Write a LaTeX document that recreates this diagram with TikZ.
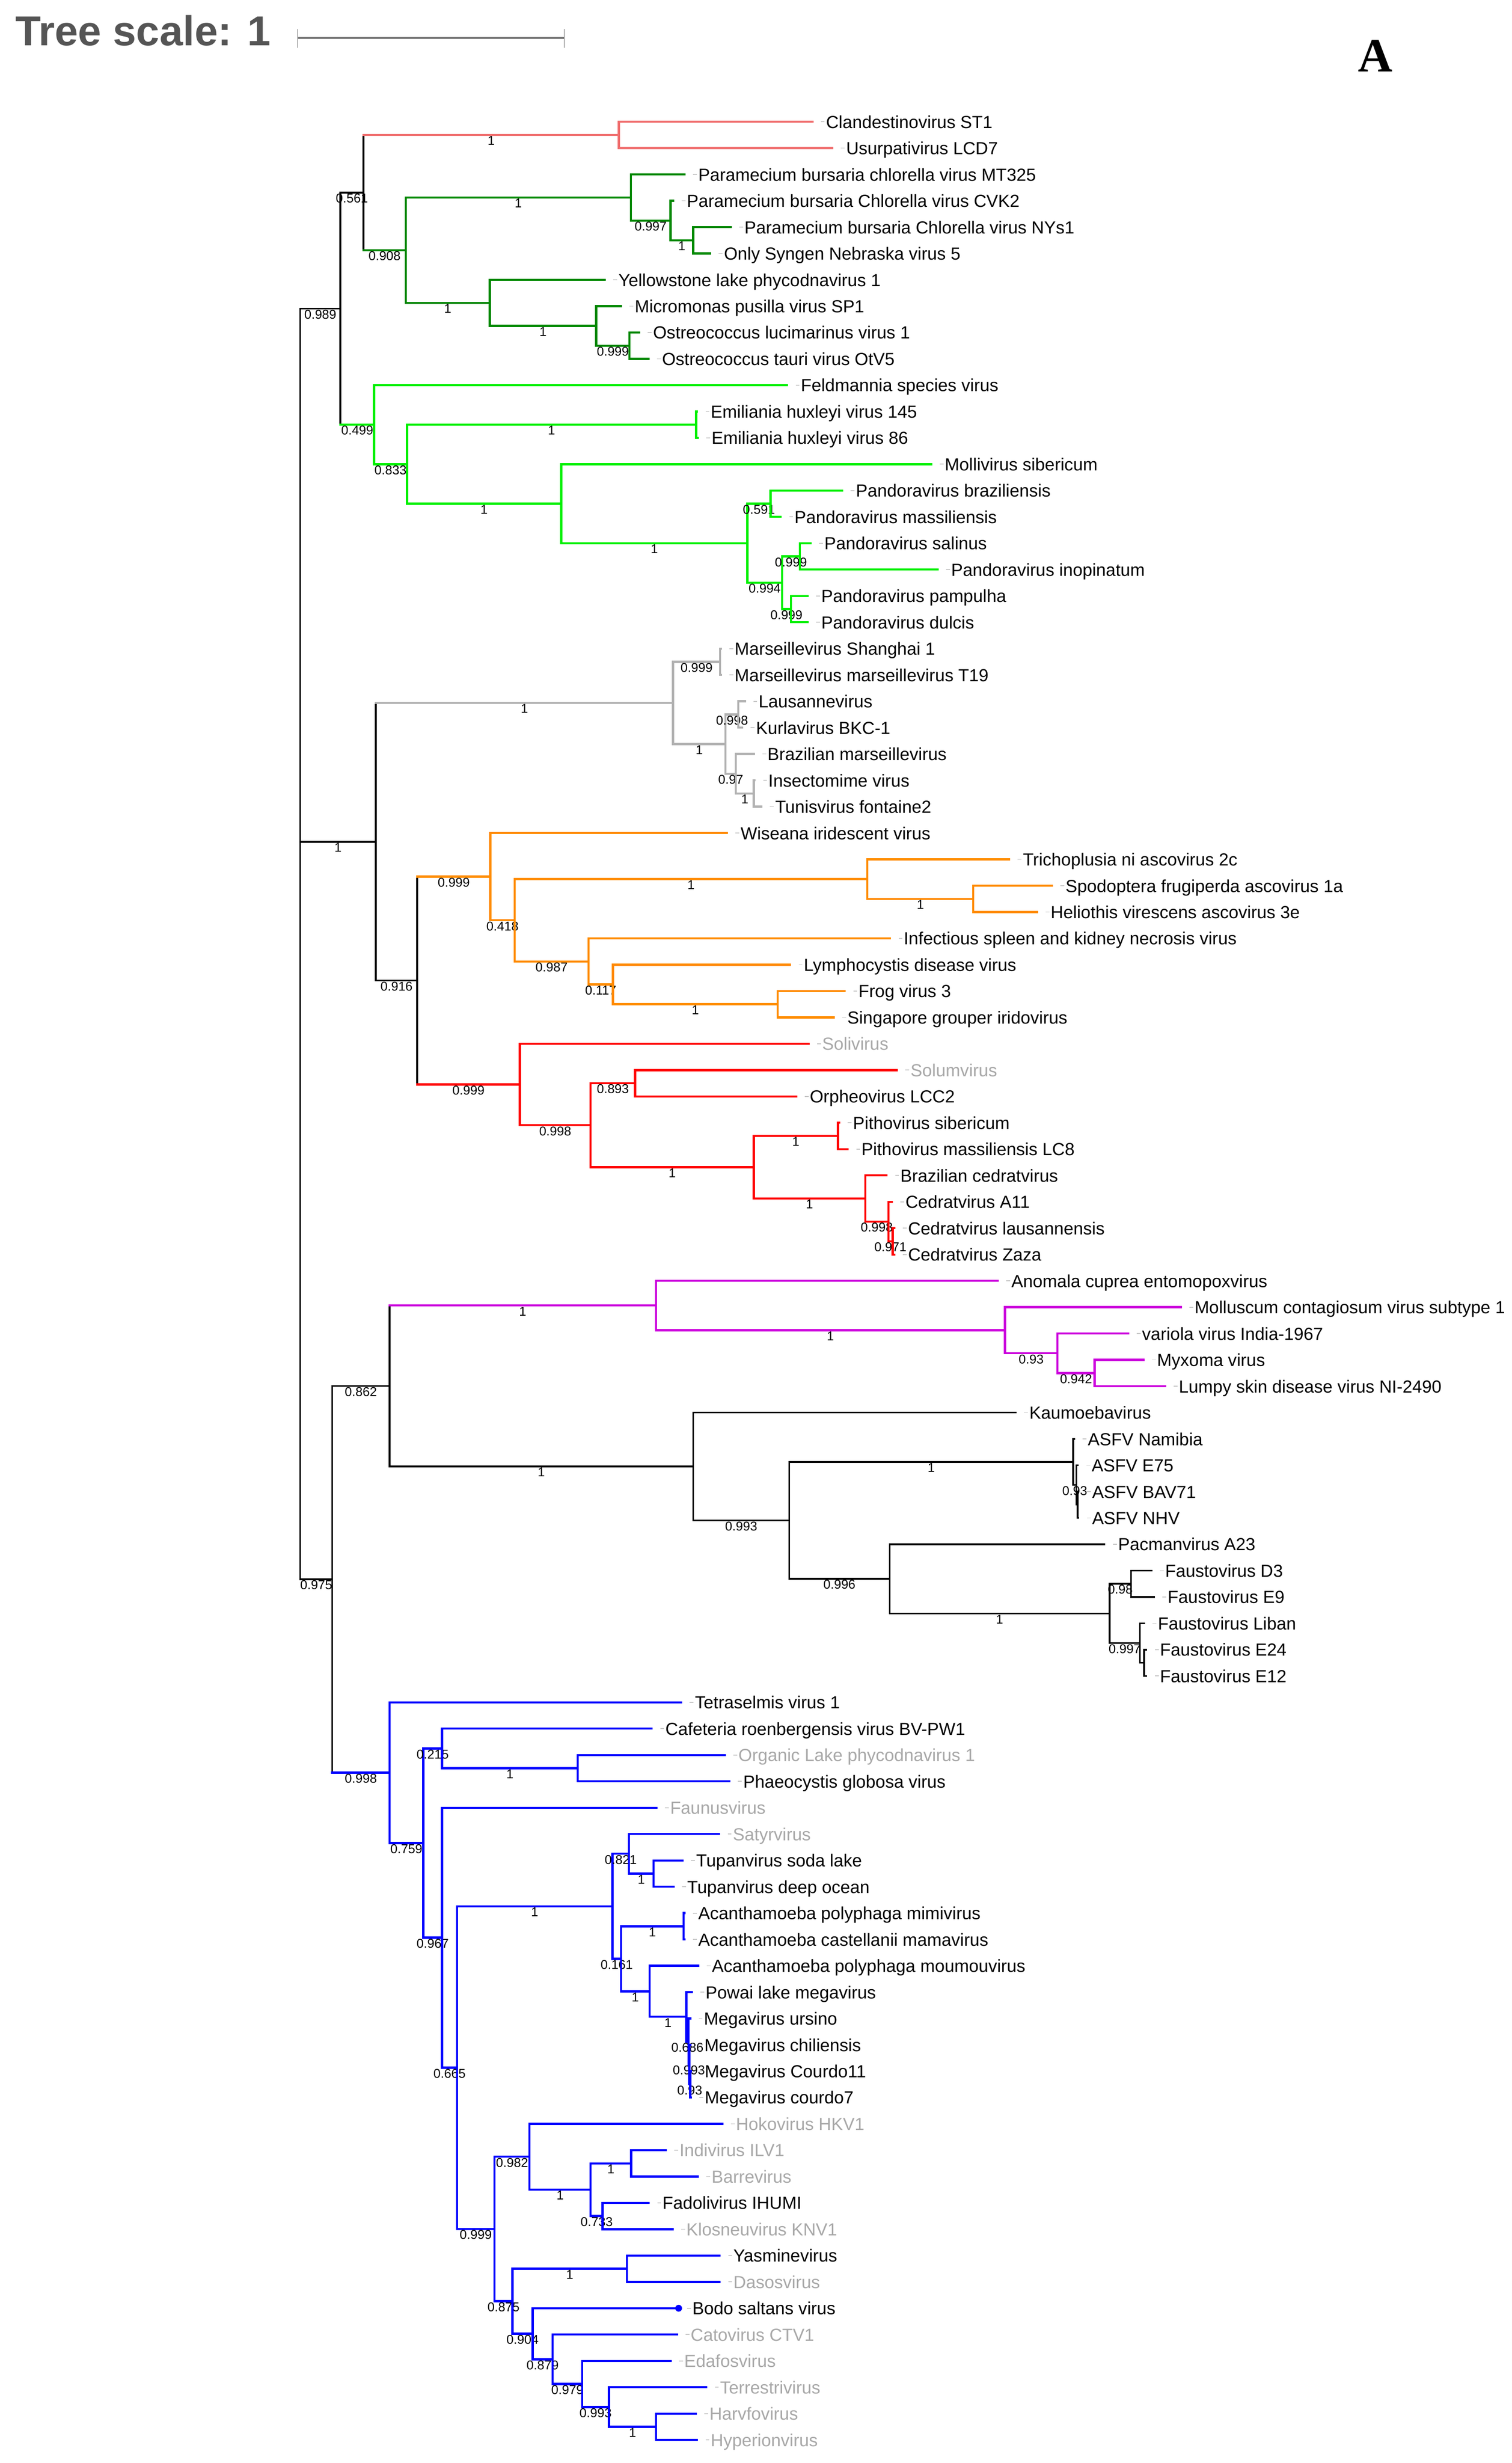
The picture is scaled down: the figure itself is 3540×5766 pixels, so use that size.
\documentclass[tikz,border=0pt]{standalone}
\usepackage{fontspec}
\setmainfont{Liberation Sans}
\newfontfamily\serifA{Liberation Serif}
\usetikzlibrary{calc}
\definecolor{cSal}{RGB}{240,112,112}
\definecolor{cGrn}{RGB}{0,136,0}
\definecolor{cLim}{RGB}{0,240,0}
\definecolor{cMar}{RGB}{178,178,178}
\definecolor{cOra}{RGB}{255,140,0}
\definecolor{cRed}{RGB}{255,0,0}
\definecolor{cPur}{RGB}{204,0,221}
\definecolor{cBlu}{RGB}{0,0,255}
\definecolor{tgray}{RGB}{168,168,168}
\definecolor{ttl}{RGB}{85,85,85}
\newcommand\leaffont{\fontsize{41}{49}\selectfont}
\newcommand\bsfont{\fontsize{30}{36}\selectfont}
\newcommand\yl[1]{285+(#1-1)*61.67}
% internal node, same colour stem
\newcommand\nd[6]{%
  \coordinate (#1) at (#2,{\yl{#3}});
  \draw[#5] (#4) |- (#1);
  \node[bs] (b#1) at ($(#4 |- #1)!0.5!(#1)$) {#6};}
% internal node, black parent vertical + coloured stem
\newcommand\ndx[6]{%
  \coordinate (#1) at (#2,{\yl{#3}});
  \draw[brBlk] (#4) -- (#4 |- #1);
  \draw[#5] (#4 |- #1) -- (#1);
  \node[bs] (b#1) at ($(#4 |- #1)!0.5!(#1)$) {#6};}
% internal node without support label
\newcommand\ndn[5]{%
  \coordinate (#1) at (#2,{\yl{#3}});
  \draw[#5] (#4) |- (#1);}
% leaf
\newcommand\lf[6]{%
  \coordinate (#1) at (#2,{\yl{#3}});
  \draw[#5] (#4) |- (#1);
  \draw[dsh] ([xshift=20pt]#1) -- ([xshift=29pt]#1);
  \node[lab] (t#1) at ([xshift=32pt,yshift=-15pt]#1) {#6};}
\tikzset{
  brBlk/.style={draw=black, line width=4pt, line cap=rect},
  brSal/.style={draw=cSal, line width=5pt, line cap=rect},
  brGrn/.style={draw=cGrn, line width=5pt, line cap=rect},
  brLim/.style={draw=cLim, line width=5pt, line cap=rect},
  brMar/.style={draw=cMar, line width=5pt, line cap=rect},
  brOra/.style={draw=cOra, line width=5pt, line cap=rect},
  brRed/.style={draw=cRed, line width=5pt, line cap=rect},
  brPur/.style={draw=cPur, line width=5pt, line cap=rect},
  brBlu/.style={draw=cBlu, line width=5pt, line cap=rect},
  bs/.style={anchor=base, inner sep=0pt, font=\bsfont, text=black, yshift=-24pt},
  lab/.style={anchor=base west, inner sep=0pt, font=\leaffont, text=black},
  dsh/.style={draw=black!22, line width=2pt},
}
\begin{document}
\begin{tikzpicture}[x=1pt,y=-1pt]
\fill[white] (0,0) rectangle (3540,5766);
\useasboundingbox (0,0) rectangle (3540,5766);
% title, scale bar, panel letter
\node[anchor=base west, inner sep=0pt, text=ttl, font=\fontsize{98}{110}\selectfont\bfseries] (title) at (36,107) {Tree scale: 1};
\coordinate (sbA) at (697,89);
\coordinate (sbB) at (1321,89);
\draw[draw=black!55, line width=4pt] (sbA) -- (sbB);
\draw[draw=black!65, line width=2pt] ([yshift=21pt]sbA) -- ([yshift=-23pt]sbA);
\draw[draw=black!65, line width=2pt] ([yshift=21pt]sbB) -- ([yshift=-23pt]sbB);
\node[anchor=base west, inner sep=0pt, font=\fontsize{112}{120}\selectfont\serifA\bfseries] (panelA) at (3180,168) {A};
% root
\coordinate (root) at (703,{\yl{32.212646}});
% ---- upper clade
\nd{n797}{797}{8.09375}{root}{brBlk}{0.989}
\nd{n851}{851}{3.6875}{n797}{brBlk}{0.561}
\ndx{rA}{1449}{1.5}{n851}{brSal}{1}
\lf{l1}{1902}{1}{rA}{brSal}{Clandestinovirus ST1}
\lf{l2}{1949}{2}{rA}{brSal}{Usurpativirus LCD7}
\ndx{gG}{950}{5.875}{n851}{brGrn}{0.908}
\nd{gC}{1477}{3.875}{gG}{brGrn}{1}
\lf{l3}{1603}{3}{gC}{brGrn}{Paramecium bursaria chlorella virus MT325}
\nd{gB}{1570}{4.75}{gC}{brGrn}{0.997}
\lf{l4}{1576}{4}{gB}{brGrn}{Paramecium bursaria Chlorella virus CVK2}
\nd{gA}{1623}{5.5}{gB}{brGrn}{1}
\lf{l5}{1711}{5}{gA}{brGrn}{Paramecium bursaria Chlorella virus NYs1}
\lf{l6}{1663}{6}{gA}{brGrn}{Only Syngen Nebraska virus 5}
\nd{gF}{1147}{7.875}{gG}{brGrn}{1}
\lf{l7}{1416}{7}{gF}{brGrn}{Yellowstone lake phycodnavirus 1}
\nd{gE}{1396}{8.75}{gF}{brGrn}{1}
\lf{l8}{1454}{8}{gE}{brGrn}{Micromonas pusilla virus SP1}
\nd{gD}{1474}{9.5}{gE}{brGrn}{0.999}
\lf{l9}{1497}{9}{gD}{brGrn}{Ostreococcus lucimarinus virus 1}
\lf{l10}{1518}{10}{gD}{brGrn}{Ostreococcus tauri virus OtV5}
\ndx{lF}{876}{12.5}{n797}{brLim}{0.499}
\lf{l11}{1843}{11}{lF}{brLim}{Feldmannia species virus}
\nd{lE}{953}{14}{lF}{brLim}{0.833}
\nd{lEh}{1630}{12.5}{lE}{brLim}{1}
\lf{l12}{1632}{12}{lEh}{brLim}{Emiliania huxleyi virus 145}
\lf{l13}{1634}{13}{lEh}{brLim}{Emiliania huxleyi virus 86}
\nd{lM}{1314}{15.5}{lE}{brLim}{1}
\lf{l14}{2180}{14}{lM}{brLim}{Mollivirus sibericum}
\nd{lP}{1750}{17}{lM}{brLim}{1}
\nd{lPb}{1804}{15.5}{lP}{brLim}{0.591}
\lf{l15}{1972}{15}{lPb}{brLim}{Pandoravirus braziliensis}
\lf{l16}{1828}{16}{lPb}{brLim}{Pandoravirus massiliensis}
\nd{lPt}{1831}{18.5}{lP}{brLim}{0.994}
\nd{lPs}{1873}{17.5}{lPt}{brLim}{0.999}
\lf{l17}{1898}{17}{lPs}{brLim}{Pandoravirus salinus}
\lf{l18}{2195}{18}{lPs}{brLim}{Pandoravirus inopinatum}
\nd{lPd}{1852}{19.5}{lPt}{brLim}{0.999}
\lf{l19}{1891}{19}{lPd}{brLim}{Pandoravirus pampulha}
\lf{l20}{1891}{20}{lPd}{brLim}{Pandoravirus dulcis}
% ---- middle clade
\nd{n880}{880}{28.33203125}{root}{brBlk}{1}
\ndx{mF}{1576}{23.0625}{n880}{brMar}{1}
\nd{mA}{1686}{21.5}{mF}{brMar}{0.999}
\lf{l21}{1688}{21}{mA}{brMar}{Marseillevirus Shanghai 1}
\lf{l22}{1688}{22}{mA}{brMar}{Marseillevirus marseillevirus T19}
\nd{mE}{1699}{24.625}{mF}{brMar}{1}
\nd{mB}{1729}{23.5}{mE}{brMar}{0.998}
\lf{l23}{1744}{23}{mB}{brMar}{Lausannevirus}
\lf{l24}{1738}{24}{mB}{brMar}{Kurlavirus BKC-1}
\nd{mD}{1723}{25.75}{mE}{brMar}{0.97}
\lf{l25}{1765}{25}{mD}{brMar}{Brazilian marseillevirus}
\nd{mC}{1765}{26.5}{mD}{brMar}{1}
\lf{l26}{1767}{26}{mC}{brMar}{Insectomime virus}
\lf{l27}{1783}{27}{mC}{brMar}{Tunisvirus fontaine2}
\nd{n977}{977}{33.6015625}{n880}{brBlk}{0.916}
\ndx{oG}{1148}{29.65625}{n977}{brOra}{0.999}
\lf{l28}{1702}{28}{oG}{brOra}{Wiseana iridescent virus}
\nd{oF}{1205}{31.3125}{oG}{brOra}{0.418}
\nd{oB}{2031}{29.75}{oF}{brOra}{1}
\lf{l29}{2363}{29}{oB}{brOra}{Trichoplusia ni ascovirus 2c}
\nd{oA}{2279}{30.5}{oB}{brOra}{1}
\lf{l30}{2463}{30}{oA}{brOra}{Spodoptera frugiperda ascovirus 1a}
\lf{l31}{2428}{31}{oA}{brOra}{Heliothis virescens ascovirus 3e}
\nd{oE}{1378}{32.875}{oF}{brOra}{0.987}
\lf{l32}{2084}{32}{oE}{brOra}{Infectious spleen and kidney necrosis virus}
\nd{oD}{1435}{33.75}{oE}{brOra}{0.117}
\lf{l33}{1850}{33}{oD}{brOra}{Lymphocystis disease virus}
\nd{oC}{1821}{34.5}{oD}{brOra}{1}
\lf{l34}{1978}{34}{oC}{brOra}{Frog virus 3}
\lf{l35}{1952}{35}{oC}{brOra}{Singapore grouper iridovirus}
\ndx{pH}{1217}{37.546875}{n977}{brRed}{0.999}
\lf{l36}{1893}{36}{pH}{brRed}{\textcolor{tgray}{Solivirus}}
\nd{pG}{1383}{39.09375}{pH}{brRed}{0.998}
\nd{pA}{1487}{37.5}{pG}{brRed}{0.893}
\lf{l37}{2100}{37}{pA}{brRed}{\textcolor{tgray}{Solumvirus}}
\lf{l38}{1864}{38}{pA}{brRed}{Orpheovirus LCC2}
\nd{pF}{1765}{40.6875}{pG}{brRed}{1}
\nd{pB}{1962}{39.5}{pF}{brRed}{1}
\lf{l39}{1965}{39}{pB}{brRed}{Pithovirus sibericum}
\lf{l40}{1985}{40}{pB}{brRed}{Pithovirus massiliensis LC8}
\nd{pE}{2026}{41.875}{pF}{brRed}{1}
\lf{l41}{2076}{41}{pE}{brRed}{Brazilian cedratvirus}
\nd{pD}{2080}{42.75}{pE}{brRed}{0.998}
\lf{l42}{2088}{42}{pD}{brRed}{Cedratvirus A11}
\nd{pC}{2090}{43.5}{pD}{brRed}{0.971}
\lf{l43}{2094}{43}{pC}{brRed}{Cedratvirus lausannensis}
\lf{l44}{2094}{44}{pC}{brRed}{Cedratvirus Zaza}
% ---- lower clade
\nd{n778}{778}{56.33154296875}{root}{brBlk}{0.975}
\nd{n912}{912}{48.9921875}{n778}{brBlk}{0.862}
\ndx{uD}{1536}{45.9375}{n912}{brPur}{1}
\lf{l45}{2336}{45}{uD}{brPur}{Anomala cuprea entomopoxvirus}
\nd{uC}{2353}{46.875}{uD}{brPur}{1}
\lf{l46}{2765}{46}{uC}{brPur}{Molluscum contagiosum virus subtype 1}
\nd{uB}{2476}{47.75}{uC}{brPur}{0.93}
\lf{l47}{2642}{47}{uB}{brPur}{variola virus India-1967}
\nd{uA}{2563}{48.5}{uB}{brPur}{0.942}
\lf{l48}{2677}{48}{uA}{brPur}{Myxoma virus}
\lf{l49}{2728}{49}{uA}{brPur}{Lumpy skin disease virus NI-2490}
\nd{kK}{1623}{52.046875}{n912}{brBlk}{1}
\lf{l50}{2378}{50}{kK}{brBlk}{Kaumoebavirus}
\nd{aD}{1848}{54.09375}{kK}{brBlk}{0.993}
\nd{aC}{2513}{51.875}{aD}{brBlk}{1}
\lf{l51}{2515}{51}{aC}{brBlk}{ASFV Namibia}
\nd{aB}{2520}{52.75}{aC}{brBlk}{0.93}
\lf{l52}{2524}{52}{aB}{brBlk}{ASFV E75}
\ndn{aA}{2523}{53.5}{aB}{brBlk}
\lf{l53}{2525}{53}{aA}{brBlk}{ASFV BAV71}
\lf{l54}{2525}{54}{aA}{brBlk}{ASFV NHV}
\nd{fE}{2083}{56.3125}{aD}{brBlk}{0.996}
\lf{l55}{2586}{55}{fE}{brBlk}{Pacmanvirus A23}
\nd{fD}{2598}{57.625}{fE}{brBlk}{1}
\nd{fA}{2648}{56.5}{fD}{brBlk}{0.98}
\lf{l56}{2696}{56}{fA}{brBlk}{Faustovirus D3}
\lf{l57}{2702}{57}{fA}{brBlk}{Faustovirus E9}
\nd{fC}{2669}{58.75}{fD}{brBlk}{0.997}
\lf{l58}{2679}{58}{fC}{brBlk}{Faustovirus Liban}
\ndn{fB}{2679}{59.5}{fC}{brBlk}
\lf{l59}{2684}{59}{fB}{brBlk}{Faustovirus E24}
\lf{l60}{2684}{60}{fB}{brBlk}{Faustovirus E12}
% ---- blue clade
\ndx{b998}{912}{63.6708984375}{n778}{brBlu}{0.998}
\lf{l61}{1595}{61}{b998}{brBlu}{Tetraselmis virus 1}
\nd{b759}{991}{66.341796875}{b998}{brBlu}{0.759}
\nd{bCaf}{1035}{62.75}{b759}{brBlu}{0.215}
\lf{l62}{1526}{62}{bCaf}{brBlu}{Cafeteria roenbergensis virus BV-PW1}
\nd{bOl}{1353}{63.5}{bCaf}{brBlu}{1}
\lf{l63}{1697}{63}{bOl}{brBlu}{\textcolor{tgray}{Organic Lake phycodnavirus 1}}
\lf{l64}{1708}{64}{bOl}{brBlu}{Phaeocystis globosa virus}
\nd{b967}{1035}{69.93359375}{b759}{brBlu}{0.967}
\lf{l65}{1537}{65}{b967}{brBlu}{\textcolor{tgray}{Faunusvirus}}
\nd{b665}{1070}{74.8671875}{b967}{brBlu}{0.665}
\nd{bMimi}{1434}{68.7421875}{b665}{brBlu}{1}
\nd{bSat}{1473}{66.75}{bMimi}{brBlu}{0.821}
\lf{l66}{1684}{66}{bSat}{brBlu}{\textcolor{tgray}{Satyrvirus}}
\nd{bTup}{1530}{67.5}{bSat}{brBlu}{1}
\lf{l67}{1598}{67}{bTup}{brBlu}{Tupanvirus soda lake}
\lf{l68}{1577}{68}{bTup}{brBlu}{Tupanvirus deep ocean}
\nd{bX}{1454}{70.734375}{bMimi}{brBlu}{0.161}
\nd{bMm}{1601}{69.5}{bX}{brBlu}{1}
\lf{l69}{1603}{69}{bMm}{brBlu}{Acanthamoeba polyphaga mimivirus}
\lf{l70}{1603}{70}{bMm}{brBlu}{Acanthamoeba castellanii mamavirus}
\nd{bMou}{1521}{71.96875}{bX}{brBlu}{1}
\lf{l71}{1635}{71}{bMou}{brBlu}{Acanthamoeba polyphaga moumouvirus}
\nd{bPow}{1607}{72.9375}{bMou}{brBlu}{1}
\lf{l72}{1620}{72}{bPow}{brBlu}{Powai lake megavirus}
\nd{bMa}{1612}{73.875}{bPow}{brBlu}{0.686}
\lf{l73}{1616}{73}{bMa}{brBlu}{Megavirus ursino}
\nd{bMb}{1614}{74.75}{bMa}{brBlu}{0.993}
\lf{l74}{1617}{74}{bMb}{brBlu}{Megavirus chiliensis}
\nd{bMc}{1616}{75.5}{bMb}{brBlu}{0.93}
\lf{l75}{1618}{75}{bMc}{brBlu}{Megavirus Courdo11}
\lf{l76}{1618}{76}{bMc}{brBlu}{Megavirus courdo7}
\nd{b999}{1158}{80.9921875}{b665}{brBlu}{0.999}
\nd{b982}{1240}{78.25}{b999}{brBlu}{0.982}
\lf{l77}{1691}{77}{b982}{brBlu}{\textcolor{tgray}{Hokovirus HKV1}}
\nd{bIbfk}{1383}{79.5}{b982}{brBlu}{1}
\nd{bIb}{1478}{78.5}{bIbfk}{brBlu}{1}
\lf{l78}{1559}{78}{bIb}{brBlu}{\textcolor{tgray}{Indivirus ILV1}}
\lf{l79}{1634}{79}{bIb}{brBlu}{\textcolor{tgray}{Barrevirus}}
\nd{bFk}{1411}{80.5}{bIbfk}{brBlu}{0.733}
\lf{l80}{1519}{80}{bFk}{brBlu}{Fadolivirus IHUMI}
\lf{l81}{1575}{81}{bFk}{brBlu}{\textcolor{tgray}{Klosneuvirus KNV1}}
\nd{b875}{1200}{83.734375}{b999}{brBlu}{0.875}
\nd{bYd}{1468}{82.5}{b875}{brBlu}{1}
\lf{l82}{1685}{82}{bYd}{brBlu}{Yasminevirus}
\lf{l83}{1685}{83}{bYd}{brBlu}{\textcolor{tgray}{Dasosvirus}}
\nd{b904}{1247}{84.96875}{b875}{brBlu}{0.904}
\lf{l84}{1589}{84}{b904}{brBlu}{Bodo saltans virus}
\fill[cBlu] (l84) circle[radius=8pt];
\nd{b879}{1294}{85.9375}{b904}{brBlu}{0.879}
\lf{l85}{1585}{85}{b879}{brBlu}{\textcolor{tgray}{Catovirus CTV1}}
\nd{b979}{1363}{86.875}{b879}{brBlu}{0.979}
\lf{l86}{1570}{86}{b979}{brBlu}{\textcolor{tgray}{Edafosvirus}}
\nd{b993}{1426}{87.75}{b979}{brBlu}{0.993}
\lf{l87}{1654}{87}{b993}{brBlu}{\textcolor{tgray}{Terrestrivirus}}
\nd{bHh}{1536}{88.5}{b993}{brBlu}{1}
\lf{l88}{1629}{88}{bHh}{brBlu}{\textcolor{tgray}{Harvfovirus}}
\lf{l89}{1632}{89}{bHh}{brBlu}{\textcolor{tgray}{Hyperionvirus}}
\end{tikzpicture}
\end{document}
